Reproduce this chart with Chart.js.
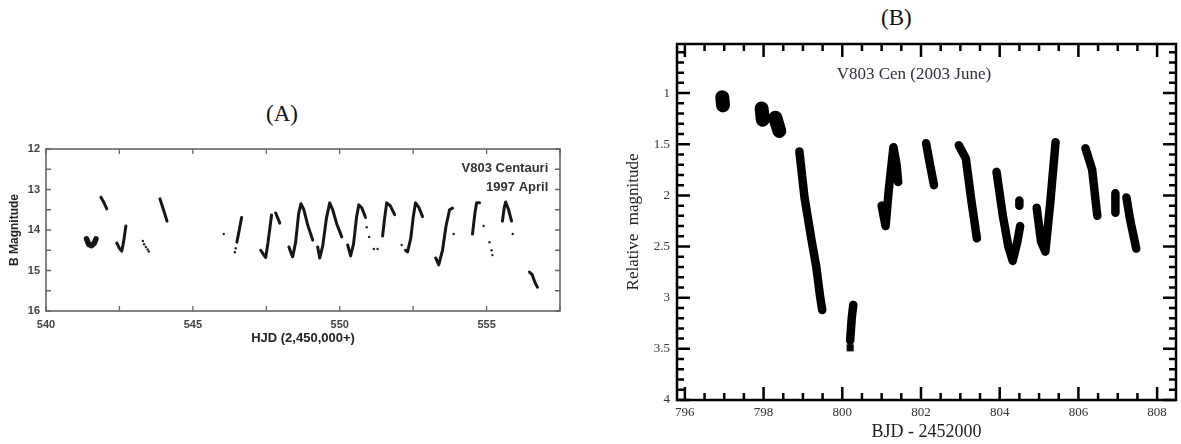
<!DOCTYPE html>
<html lang="en">
<head>
    <meta charset="UTF-8">
    <title>V803 Cen light curves</title>
    <script src="https://cdn.jsdelivr.net/npm/chart.js"></script>
    <style>
        body { margin: 0; background: #fff; width: 1181px; height: 444px; position: relative; overflow: hidden; }
        .box { position: absolute; top: 0; height: 444px; }
        .lab { position: absolute; font-family: "Liberation Serif", serif; font-size: 23px; color: #111; }
    </style>
</head>
<body>

<div class="lab" style="left:266px; top:101px;">(A)</div>
<div class="lab" style="left:881px; top:5px;">(B)</div>

<div class="box" style="left:0; width:580px;"><canvas id="chartA"></canvas></div>
<div class="box" style="left:600px; width:581px;"><canvas id="chartB"></canvas></div>

<script>
    // (A) V803 Centauri, 1997 April -- null breaks a stroke
    const hjdA = [541.87, 541.97, 542.07, null,
        542.41, 542.5, 542.58, 542.64, 542.72, null,
        543.88, 544.0, 544.12, null,
        546.5, 546.58, 546.66, null,
        547.31, 547.42, 547.48, 547.56, 547.68, null,
        547.82, 547.96, null,
        548.27, 548.36, 548.4, 548.5, 548.6, 548.68, 548.78, 548.9, 549.08, null,
        549.25, 549.32, 549.42, 549.55, 549.66, 549.76, 549.9, 550.07, null,
        550.27, 550.37, 550.47, 550.57, 550.65, 550.75, 550.88, null,
        551.46, 551.53, 551.6, 551.72, 551.87, null,
        552.24, 552.31, 552.42, 552.5, 552.58, 552.7, 552.82, null,
        553.27, 553.37, 553.5, 553.62, 553.74, 553.84, null,
        554.52, 554.6, 554.66, 554.76, null,
        555.54, 555.6, 555.65, 555.75, 555.85, null,
        556.46, 556.55, 556.65, 556.73];
    const magA = [13.19, 13.32, 13.48, null,
        14.32, 14.45, 14.52, 14.3, 13.9, null,
        13.23, 13.5, 13.78, null,
        14.3, 14.0, 13.69, null,
        14.5, 14.62, 14.68, 14.3, 13.63, null,
        13.58, 13.83, null,
        14.42, 14.6, 14.66, 14.3, 13.6, 13.35, 13.5, 13.85, 14.25, null,
        14.42, 14.69, 14.4, 13.7, 13.33, 13.5, 13.85, 14.17, null,
        14.37, 14.64, 14.35, 13.7, 13.38, 13.45, 13.69, null,
        14.15, 13.7, 13.33, 13.4, 13.62, null,
        14.5, 14.54, 14.2, 13.7, 13.33, 13.45, 13.67, null,
        14.69, 14.86, 14.5, 13.9, 13.5, 13.46, null,
        14.1, 13.6, 13.33, 13.33, null,
        13.78, 13.45, 13.31, 13.5, 13.78, null,
        15.04, 15.1, 15.3, 15.41];
    // first night of (A): a thick blob
    const blobHjdA = [541.38, 541.46, 541.55, 541.64, 541.7];
    const blobMagA = [14.22, 14.36, 14.39, 14.33, 14.22];
    // isolated points in (A)
    const dotHjdA = [543.3, 543.34, 543.4, 543.46, 543.5, 546.05, 546.43, 546.46,
        550.92, 551.0, 551.16, 551.29, 552.11, 553.88, 554.9, 555.1, 555.17, 555.2, 555.89];
    const dotMagA = [14.27, 14.35, 14.42, 14.48, 14.53, 14.1, 14.55, 14.45,
        13.93, 14.17, 14.47, 14.47, 14.37, 14.1, 13.9, 14.3, 14.5, 14.62, 14.1];

    // (B) V803 Cen, 2003 June -- thin strokes
    const bjdB = [798.91, 799.04, 799.22, 799.34, 799.44, 799.49, null,
        800.28, 800.24, 800.2, null,
        801.0, 801.1, 801.18, 801.3, 801.38, 801.42, null,
        802.13, 802.2, 802.33, null,
        802.96, 803.14, 803.28, 803.42, null,
        803.92, 804.08, 804.22, 804.33, 804.45, 804.52, null,
        804.5, 804.5, null,
        804.94, 805.05, 805.16, 805.29, 805.42, null,
        806.18, 806.35, 806.48, null,
        806.94, 806.94, null,
        807.22, 807.32, 807.47];
    const magB = [1.57, 2.02, 2.44, 2.7, 3.0, 3.12, null,
        3.07, 3.2, 3.42, null,
        2.1, 2.3, 1.95, 1.53, 1.7, 1.87, null,
        1.49, 1.64, 1.9, null,
        1.51, 1.64, 2.05, 2.42, null,
        1.77, 2.2, 2.5, 2.64, 2.45, 2.3, null,
        2.05, 2.1, null,
        2.12, 2.45, 2.55, 2.05, 1.48, null,
        1.54, 1.75, 2.2, null,
        1.98, 2.17, null,
        2.02, 2.25, 2.52];
    // first nights: fat blobs
    const blobBjdB = [796.95, 796.97, null, 797.95, 797.98, null, 798.3, 798.4];
    const blobMagB = [1.04, 1.12, null, 1.15, 1.26, null, 1.24, 1.37];
    const sqBjdB = [800.2];
    const sqMagB = [3.49];

    function pts(xs, ys) {
        return xs.map((x, i) => x === null ? { x: xs[i - 1], y: null } : { x: x, y: ys[i] });
    }

    const insideTicks = {
        id: 'insideTicks',
        afterDraw(chart, args, o) {
            const { ctx, chartArea: a, scales: { x, y } } = chart;
            const major = (v, m) => Math.abs(v / m - Math.round(v / m)) < 1e-6;
            ctx.save();
            ctx.strokeStyle = o.color;
            ctx.lineWidth = o.width;
            ctx.beginPath();
            for (let i = 0; ; i++) {
                const v = o.xFrom + i * o.xStep;
                if (v > x.max + 1e-9) break;
                if (v < x.min - 1e-9) continue;
                const px = x.getPixelForValue(v);
                const len = major(v, o.xMajor) ? o.majorLen : o.minorLen;
                ctx.moveTo(px, a.bottom); ctx.lineTo(px, a.bottom - len);
                ctx.moveTo(px, a.top); ctx.lineTo(px, a.top + len);
            }
            for (let i = 0; ; i++) {
                const v = o.yFrom + i * o.yStep;
                if (v > y.max + 1e-9) break;
                if (v < y.min - 1e-9) continue;
                const py = y.getPixelForValue(v);
                const len = major(v, o.yMajor) ? o.majorLen : o.minorLen;
                ctx.moveTo(a.left, py); ctx.lineTo(a.left + len, py);
                ctx.moveTo(a.right, py); ctx.lineTo(a.right - len, py);
            }
            ctx.stroke();
            ctx.lineWidth = o.frame;
            ctx.strokeRect(a.left, a.top, a.right - a.left, a.bottom - a.top);
            (o.notes || []).forEach(n => {
                ctx.font = n.font;
                ctx.fillStyle = n.color;
                ctx.textAlign = n.align;
                ctx.textBaseline = 'middle';
                ctx.fillText(n.text, x.getPixelForValue(n.x), y.getPixelForValue(n.y));
            });
            ctx.restore();
        }
    };

    const sansBold = { family: 'Liberation Sans', weight: 'bold' };
    const plainNum = v => String(Number(v.toFixed(2)));

    new Chart(document.getElementById('chartA'), {
        type: 'scatter',
        data: {
            datasets: [
                {
                    data: pts(hjdA, magA), showLine: true, spanGaps: false,
                    borderColor: '#161616', borderWidth: 3, pointRadius: 0,
                    borderCapStyle: 'round', borderJoinStyle: 'round'
                },
                {
                    data: pts(blobHjdA, blobMagA), showLine: true,
                    borderColor: '#161616', borderWidth: 5.5, pointRadius: 0,
                    borderCapStyle: 'round', borderJoinStyle: 'round'
                },
                {
                    data: pts(dotHjdA, dotMagA), showLine: false,
                    pointRadius: 1.2, pointBackgroundColor: '#222', pointBorderWidth: 0
                }
            ]
        },
        options: {
            responsive: true, maintainAspectRatio: false, animation: false,
            layout: { padding: { left: 0, top: 149, right: 20, bottom: 94 } },
            plugins: {
                legend: { display: false }, tooltip: { enabled: false },
                insideTicks: {
                    color: '#666', width: 1.3, frame: 1.6, majorLen: 5, minorLen: 5,
                    xFrom: 540, xStep: 2.5, xMajor: 5, yFrom: 12, yStep: 0.5, yMajor: 1,
                    notes: [
                        { text: 'V803 Centauri', x: 557.1, y: 12.47, align: 'right', font: 'bold 13px "Liberation Sans"', color: '#333' },
                        { text: '1997 April', x: 557.1, y: 12.96, align: 'right', font: 'bold 13px "Liberation Sans"', color: '#333' }
                    ]
                }
            },
            scales: {
                x: {
                    type: 'linear', min: 540, max: 557.5,
                    grid: { display: false, drawTicks: false }, border: { display: false },
                    ticks: { stepSize: 5, includeBounds: false, padding: 7, maxRotation: 0, color: '#444', font: { ...sansBold, size: 11 } },
                    title: { display: true, text: 'HJD (2,450,000+)', color: '#222', font: { ...sansBold, size: 13 }, padding: { top: 4, bottom: 4 } },
                    afterFit: s => { s.height = 39; }
                },
                y: {
                    type: 'linear', reverse: true, min: 12, max: 16,
                    grid: { display: false, drawTicks: false }, border: { display: false },
                    ticks: { stepSize: 1, includeBounds: false, padding: 6, color: '#444', font: { ...sansBold, size: 11 } },
                    title: { display: true, text: 'B Magnitude', color: '#222', font: { ...sansBold, size: 12 }, padding: { top: 7, bottom: 4 } },
                    afterFit: s => { s.width = 46; }
                }
            }
        },
        plugins: [insideTicks]
    });

    const serif = { family: 'Liberation Serif' };

    new Chart(document.getElementById('chartB'), {
        type: 'scatter',
        data: {
            datasets: [
                {
                    data: pts(bjdB, magB), showLine: true, spanGaps: false,
                    borderColor: '#000', borderWidth: 8.5, pointRadius: 0,
                    borderCapStyle: 'round', borderJoinStyle: 'round'
                },
                {
                    data: pts(blobBjdB, blobMagB), showLine: true, spanGaps: false,
                    borderColor: '#000', borderWidth: 14, pointRadius: 0,
                    borderCapStyle: 'round', borderJoinStyle: 'round'
                },
                {
                    data: pts(sqBjdB, sqMagB), showLine: false, pointStyle: 'rect',
                    pointRadius: 5, pointBackgroundColor: '#000', pointBorderWidth: 0
                }
            ]
        },
        options: {
            responsive: true, maintainAspectRatio: false, animation: false,
            layout: { padding: { left: 19, top: 44, right: 2, bottom: 0 } },
            plugins: {
                legend: { display: false }, tooltip: { enabled: false },
                insideTicks: {
                    color: '#000', width: 2.5, frame: 2.5, majorLen: 13, minorLen: 7,
                    xFrom: 796, xStep: 0.5, xMajor: 2, yFrom: 0.6, yStep: 0.1, yMajor: 0.5,
                    notes: [
                        { text: 'V803 Cen (2003 June)', x: 801.82, y: 0.82, align: 'center', font: '17px "Liberation Serif"', color: '#2b2f38' }
                    ]
                }
            },
            scales: {
                x: {
                    type: 'linear', min: 795.8, max: 808.48,
                    grid: { display: false, drawTicks: false }, border: { display: false },
                    ticks: { stepSize: 2, includeBounds: false, padding: 5, maxRotation: 0, color: '#333', font: { ...serif, size: 13 } },
                    title: { display: true, text: 'BJD - 2452000', color: '#222', font: { ...serif, size: 18 }, padding: { top: 2, bottom: 1 } },
                    afterFit: s => { s.height = 44; }
                },
                y: {
                    type: 'linear', reverse: true, min: 0.52, max: 4,
                    grid: { display: false, drawTicks: false }, border: { display: false },
                    ticks: { stepSize: 0.5, includeBounds: false, padding: 7, color: '#333', font: { ...serif, size: 13 }, callback: plainNum },
                    title: { display: true, text: 'Relative  magnitude', color: '#222', font: { ...serif, size: 17 }, padding: { top: 4, bottom: 4 } },
                    afterFit: s => { s.width = 58; }
                }
            }
        },
        plugins: [insideTicks]
    });
</script>

</body>
</html>
